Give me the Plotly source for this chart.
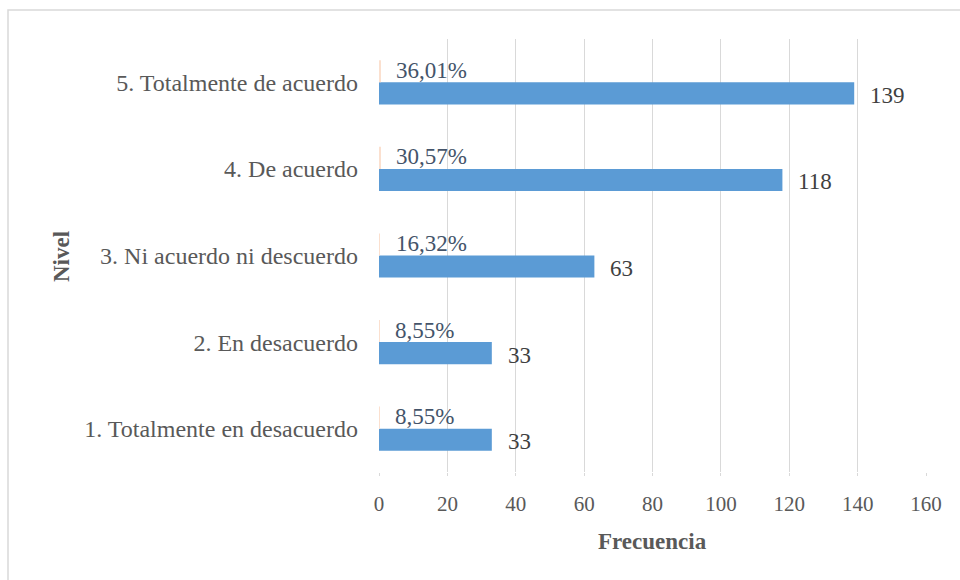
import plotly.graph_objects as go

categorias = ["1. Totalmente en desacuerdo", "2. En desacuerdo", "3. Ni acuerdo ni descuerdo",
              "4. De acuerdo", "5. Totalmente de acuerdo"]
frecuencia = [33, 33, 63, 118, 139]
porcentaje = [0.0855, 0.0855, 0.1632, 0.3057, 0.3601]
x_ticks = [0, 20, 40, 60, 80, 100, 120, 140, 160]

W, H = 960, 580
L, R, T, B = 379, 34, 39, 108
pw, ph = W - L - R, H - T - B

def px_x(p):
    return (p - L) / pw

def px_y(p):
    return (H - B - p) / ph

FONT = "Liberation Serif, Times New Roman, serif"

fig = go.Figure()
fig.add_trace(go.Bar(y=categorias, x=frecuencia, orientation="h", name="Frecuencia",
                     marker=dict(color="#5B9BD5", line=dict(width=0)), hoverinfo="x+y"))
fig.add_trace(go.Bar(y=categorias, x=porcentaje, orientation="h", name="Porcentaje",
                     marker=dict(color="#FBE0CF", line=dict(width=0)), hoverinfo="x+y"))

annotations = []
for c, f, p in zip(categorias, frecuencia, porcentaje):
    annotations.append(dict(x=f, y=c, xref="x", yref="y", text=str(f), showarrow=False,
                            xanchor="left", yanchor="middle", xshift=14, yshift=-13,
                            font=dict(family=FONT, size=23, color="#404040")))
    annotations.append(dict(x=p, y=c, xref="x", yref="y",
                            text=f"{p*100:.2f}".replace(".", ",") + "%", showarrow=False,
                            xanchor="left", yanchor="middle", xshift=14, yshift=12,
                            font=dict(family=FONT, size=23, color="#44546A")))
annotations.append(dict(x=px_x(652), y=px_y(541), xref="paper", yref="paper", text="<b>Frecuencia</b>",
                        showarrow=False, xanchor="center", yanchor="middle",
                        font=dict(family=FONT, size=23, color="#595959")))
annotations.append(dict(x=px_x(61), y=px_y(257), xref="paper", yref="paper", text="<b>Nivel</b>",
                        showarrow=False, textangle=-90, xanchor="center", yanchor="middle",
                        font=dict(family=FONT, size=23, color="#595959")))

fig.update_layout(
    width=W, height=H,
    margin=dict(l=L, r=R, t=T, b=B, autoexpand=False),
    paper_bgcolor="white", plot_bgcolor="white",
    barmode="group", bargap=0.49, bargroupgap=0,
    showlegend=False,
    annotations=annotations,
    shapes=[dict(type="rect", xref="paper", yref="paper",
                 x0=px_x(8), x1=px_x(975), y0=px_y(590), y1=px_y(10),
                 line=dict(color="#D9D9D9", width=1.5), fillcolor="rgba(0,0,0,0)", layer="below")],
    xaxis=dict(range=[0, 160], tickvals=x_ticks, showgrid=True, gridcolor="#D9D9D9", gridwidth=1.3,
               zeroline=False, showline=False, ticks="outside", ticklen=3, tickcolor="#D9D9D9",
               ticklabelstandoff=10,
               tickfont=dict(family=FONT, size=21, color="#595959"), fixedrange=True),
    yaxis=dict(type="category", categoryorder="array", categoryarray=categorias,
               showgrid=False, zeroline=False, showline=False, ticks="",
               ticklabelstandoff=20,
               tickfont=dict(family=FONT, size=24, color="#595959"), fixedrange=True),
)

fig.write_html("out.html")
